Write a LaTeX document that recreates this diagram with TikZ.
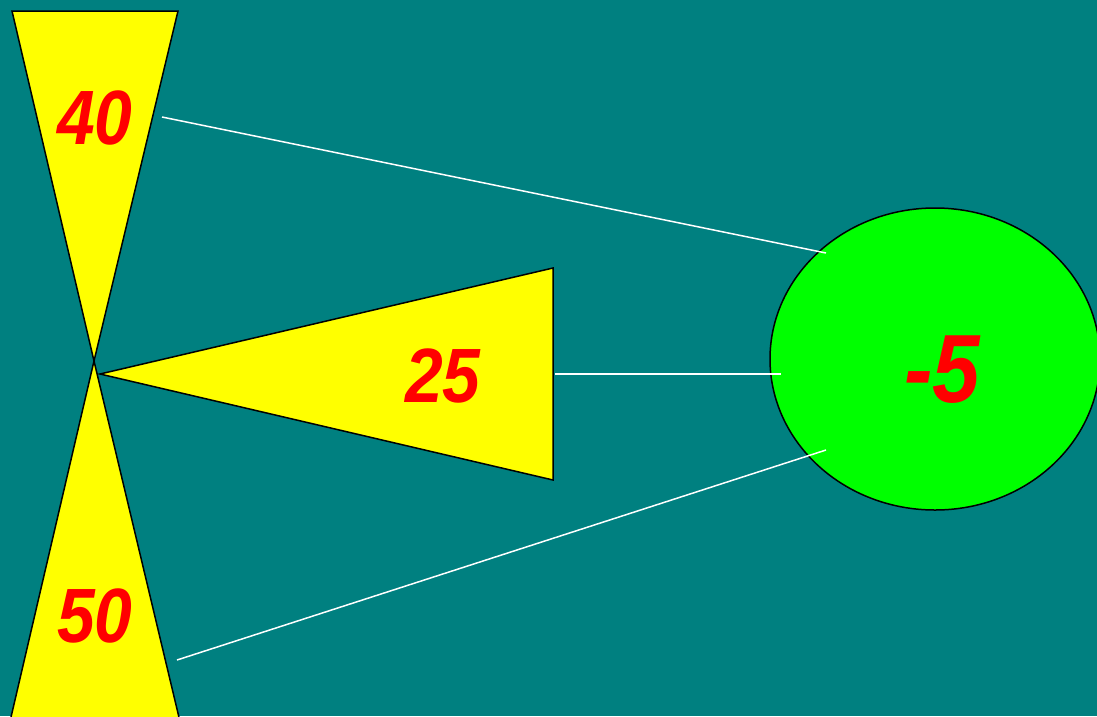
\documentclass[tikz,border=0pt]{standalone}
\usepackage{fontspec}
\setmainfont{Liberation Sans}
\newfontfamily\numfont[FakeStretch=0.88]{Liberation Sans}
\begin{document}
\begin{tikzpicture}[x=1pt,y=-1pt,
  tri/.style={fill=ylw,draw=black,line width=1.5pt,line join=miter},
  num/.style={text=red,inner sep=0pt,font=\fontsize{77}{80}\numfont\bfseries\itshape},
  link/.style={draw=white,line width=1.5pt}]
\definecolor{bg}{HTML}{008080}
\definecolor{grn}{HTML}{00FF00}
\definecolor{ylw}{HTML}{FFFF00}
\fill[bg] (0,0) rectangle (1097,716);
\useasboundingbox (0,0) rectangle (1097,716);
\begin{scope}
\clip (0,0) rectangle (1097,716);
\draw[tri] (12,11) -- (178,11) -- (94,361) -- cycle;
\draw[tri] (94,361) -- (182,730) -- (8,730) -- cycle;
\draw[tri] (100,374) -- (553,268) -- (553,480) -- cycle;
\draw[fill=grn,draw=black,line width=1.5pt] (935,359) ellipse [x radius=165, y radius=151];
\end{scope}
\node[num] (n40) at (95,118) {40};
\node[num] (n50) at (95,616) {50};
\node[num] (n25) at (443,376) {25};
\node[num,font=\fontsize{97}{100}\numfont\bfseries\itshape] (n5) at (942,370) {-5};
\coordinate (a1) at (162,117);
\coordinate (b1) at (826,253);
\coordinate (a2) at (555,374);
\coordinate (b2) at (781,374);
\coordinate (a3) at (177,660);
\coordinate (b3) at (826,450);
\draw[link] (a1) -- (b1);
\draw[link] (a2) -- (b2);
\draw[link] (a3) -- (b3);
\end{tikzpicture}
\end{document}
